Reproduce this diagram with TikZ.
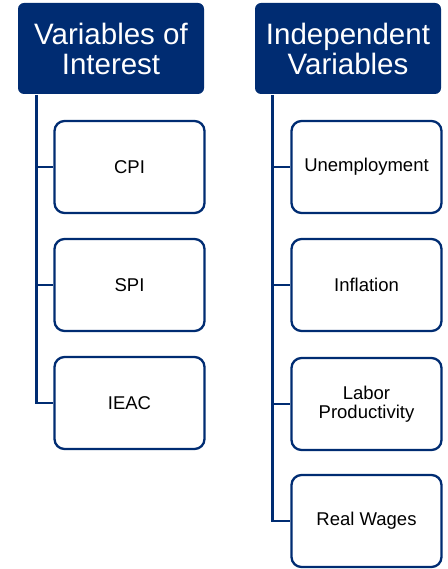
\documentclass[tikz,border=0pt]{standalone}
\usepackage{fontspec}
\setmainfont{Liberation Sans}
\definecolor{navy}{RGB}{0,44,114}
\begin{document}
\begin{tikzpicture}[x=1pt,y=-1pt,
  header/.style={fill=navy,rounded corners=6pt,minimum width=186pt,minimum height=91pt,
    text=white,align=center,font=\fontsize{29.5}{30}\selectfont,inner sep=0pt},
  item/.style={draw=navy,line width=2.3pt,fill=white,rounded corners=10pt,minimum width=150pt,
    minimum height=92pt,align=center,font=\fontsize{18.5}{19}\selectfont,inner sep=0pt},
  link/.style={draw=navy,line width=2.4pt}]
\useasboundingbox (0,0) rectangle (447,569);
% column headers
\node[header] (h1) at (111,48.5) {Variables of\\Interest};
\node[header] (h2) at (348,48.5) {Independent\\Variables};
% left column
\node[item] (cpi) at (129.5,167) {CPI};
\node[item] (spi) at (129.5,285) {SPI};
\node[item] (ieac) at (129.5,403) {IEAC};
% right column
\node[item] (un) at (366.5,167) {Unemployment};
\node[item] (inf) at (366.5,285) {Inflation};
\node[item] (lab) at (366.5,404) {Labor\\Productivity};
\node[item] (rw) at (366.5,521) {Real Wages};
% connectors
\coordinate (l0) at (36.5,95);
\coordinate (r0) at (272.5,95);
\draw[link] (l0) |- (ieac.west);
\draw[link] (l0 |- cpi.west) -- (cpi.west);
\draw[link] (l0 |- spi.west) -- (spi.west);
\draw[link] (r0) |- (rw.west);
\draw[link] (r0 |- un.west) -- (un.west);
\draw[link] (r0 |- inf.west) -- (inf.west);
\draw[link] (r0 |- lab.west) -- (lab.west);
\end{tikzpicture}
\end{document}
